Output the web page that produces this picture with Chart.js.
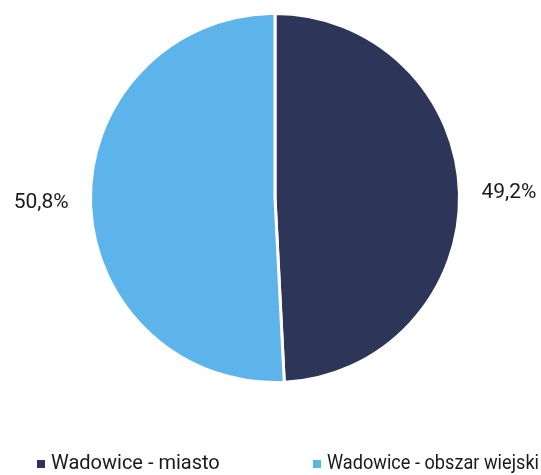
<!DOCTYPE html>
<html>
<head>
<meta charset="utf-8">
<script src="https://cdn.jsdelivr.net/npm/chart.js@4/dist/chart.umd.min.js"></script>
<style>
  html, body { margin: 0; padding: 0; background: #fff; }
  #wrap { width: 541px; height: 475px; position: relative; }
</style>
</head>
<body>
<div id="wrap"><canvas id="pie"></canvas></div>
<script>
// dane
var categories = ['Wadowice - miasto', 'Wadowice - obszar wiejski'];
var shares = [49.2, 50.8];
var colors = ['#2d3658', '#5cb4ea'];

var FONT = 'Roboto, "Liberation Sans", Arial, sans-serif';

// etykiety procentowe na zewnątrz koła
var outsideLabels = {
  id: 'outsideLabels',
  afterDatasetsDraw: function (chart) {
    var ctx = chart.ctx;
    var meta = chart.getDatasetMeta(0);
    ctx.save();
    ctx.font = '21px ' + FONT;
    ctx.fillStyle = '#1a1a1a';
    ctx.textBaseline = 'middle';
    meta.data.forEach(function (arc, i) {
      var mid = (arc.startAngle + arc.endAngle) / 2;
      var r = arc.outerRadius + 22;
      var x = arc.x + Math.cos(mid) * r;
      var y = arc.y + Math.sin(mid) * r;
      ctx.textAlign = Math.cos(mid) >= 0 ? 'left' : 'right';
      ctx.fillText(shares[i].toFixed(1).replace('.', ',') + '%', x, y);
    });
    ctx.restore();
  }
};

// legenda na dole
var bottomLegend = {
  id: 'bottomLegend',
  afterDraw: function (chart) {
    var ctx = chart.ctx;
    var xs = [37, 313];
    var maxW = [170, 212];
    var y = 464;
    ctx.save();
    ctx.font = '20px ' + FONT;
    ctx.textBaseline = 'middle';
    ctx.textAlign = 'left';
    categories.forEach(function (name, i) {
      ctx.fillStyle = colors[i];
      ctx.fillRect(xs[i], y - 4, 8, 8);
      ctx.fillStyle = '#1a1a1a';
      ctx.fillText(name, xs[i] + 14, y, maxW[i]);
    });
    ctx.restore();
  }
};

new Chart(document.getElementById('pie'), {
  type: 'pie',
  data: {
    labels: categories,
    datasets: [{
      data: shares,
      backgroundColor: colors,
      borderColor: '#fff',
      borderWidth: 3
    }]
  },
  options: {
    responsive: true,
    maintainAspectRatio: false,
    animation: false,
    layout: { padding: { top: 12, bottom: 91, left: 89, right: 80 } },
    plugins: {
      legend: { display: false },
      tooltip: { enabled: false }
    }
  },
  plugins: [outsideLabels, bottomLegend]
});
</script>
</body>
</html>
